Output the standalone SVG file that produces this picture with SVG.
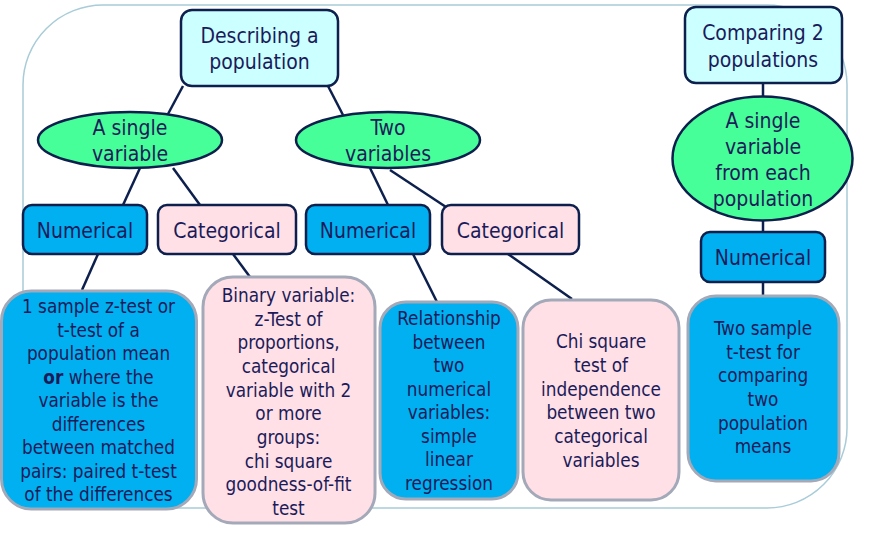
<svg xmlns="http://www.w3.org/2000/svg" width="876" height="539" viewBox="0 0 876 539">
<style>
text{font-family:"DejaVu Sans Condensed","DejaVu Sans",sans-serif;fill:#1b1b5a;text-anchor:middle}
.t20{font-size:21px}
.t17{font-size:18.8px}
.top{fill:#ccffff;stroke:#0d1f4d;stroke-width:2.5}
.ell{fill:#47ff98;stroke:#0d1f4d;stroke-width:2.5}
.num{fill:#00b0f0;stroke:#0d1f4d;stroke-width:2.5}
.cat{fill:#ffe0e6;stroke:#0d1f4d;stroke-width:2.5}
.bnum{fill:#00b0f0;stroke:#a3a9b8;stroke-width:3}
.bcat{fill:#ffe0e6;stroke:#a3a9b8;stroke-width:3}
.con line{stroke:#0d1f4d;stroke-width:2.5}
</style>
<rect x="23" y="5" width="824" height="503" rx="80" fill="none" stroke="#a8ccd8" stroke-width="1.5"/>
<g class="con">
<line x1="183" y1="86" x2="168" y2="114"/>
<line x1="328" y1="86" x2="343" y2="115"/>
<line x1="140" y1="168" x2="123" y2="205"/>
<line x1="173" y1="168" x2="200" y2="205"/>
<line x1="370" y1="168" x2="388" y2="205"/>
<line x1="390" y1="170" x2="446" y2="207"/>
<line x1="98" y1="254" x2="82" y2="290"/>
<line x1="233" y1="254" x2="250" y2="277"/>
<line x1="413" y1="254" x2="437" y2="302"/>
<line x1="508" y1="254" x2="572" y2="299"/>
<line x1="763" y1="83" x2="763" y2="96"/>
<line x1="763" y1="221" x2="763" y2="232"/>
<line x1="763" y1="282" x2="763" y2="295"/>
</g>
<g id="describing"><rect class="top" x="181" y="10" width="157" height="76" rx="11"/><text class="t20" x="259.5" y="43">Describing a</text><text class="t20" x="259.5" y="69">population</text></g>
<g id="single"><ellipse class="ell" cx="130" cy="140" rx="92" ry="28"/><text class="t20" x="130" y="135">A single</text><text class="t20" x="130" y="161">variable</text></g>
<g id="two"><ellipse class="ell" cx="388" cy="140" rx="92" ry="28"/><text class="t20" x="388" y="135">Two</text><text class="t20" x="388" y="161">variables</text></g>
<g id="num1"><rect class="num" x="23" y="205" width="124" height="49" rx="9"/><text class="t20" x="85" y="238">Numerical</text></g>
<g id="cat1"><rect class="cat" x="158" y="205" width="138" height="49" rx="9"/><text class="t20" x="227" y="238">Categorical</text></g>
<g id="num2"><rect class="num" x="306" y="205" width="124" height="49" rx="9"/><text class="t20" x="368" y="238">Numerical</text></g>
<g id="cat2"><rect class="cat" x="442" y="205" width="137" height="49" rx="9"/><text class="t20" x="510.5" y="238">Categorical</text></g>
<g id="comparing"><rect class="top" x="685" y="7" width="157" height="76" rx="11"/><text class="t20" x="763" y="40">Comparing 2</text><text class="t20" x="763" y="67">populations</text></g>
<g id="single2"><ellipse class="ell" cx="762.5" cy="158.5" rx="90" ry="62"/><text class="t20" x="763" y="128">A single</text><text class="t20" x="763" y="154">variable</text><text class="t20" x="763" y="180">from each</text><text class="t20" x="763" y="206">population</text></g>
<g id="num3"><rect class="num" x="701" y="232" width="124" height="50" rx="9"/><text class="t20" x="763" y="265">Numerical</text></g>
<g id="box1"><rect class="bnum" x="1.5" y="291" width="195" height="218" rx="30"/>
<text class="t17" x="98.5"><tspan x="98.5" y="313">1 sample z-test or</tspan><tspan x="98.5" y="337">t-test of a</tspan><tspan x="98.5" y="360">population mean</tspan><tspan x="98.5" y="384"><tspan font-weight="bold">or</tspan> where the</tspan><tspan x="98.5" y="407">variable is the</tspan><tspan x="98.5" y="431">differences</tspan><tspan x="98.5" y="454">between matched</tspan><tspan x="98.5" y="478">pairs: paired t-test</tspan><tspan x="98.5" y="501">of the differences</tspan></text></g>
<g id="box2"><rect class="bcat" x="203" y="277" width="172" height="246" rx="30"/>
<text class="t17"><tspan x="288.5" y="302">Binary variable:</tspan><tspan x="288.5" y="326">z-Test of</tspan><tspan x="288.5" y="349">proportions,</tspan><tspan x="288.5" y="373">categorical</tspan><tspan x="288.5" y="397">variable with 2</tspan><tspan x="288.5" y="420">or more</tspan><tspan x="288.5" y="444">groups:</tspan><tspan x="288.5" y="468">chi square</tspan><tspan x="288.5" y="491">goodness-of-fit</tspan><tspan x="288.5" y="515">test</tspan></text></g>
<g id="box3"><rect class="bnum" x="380" y="302" width="138" height="197" rx="26"/>
<text class="t17"><tspan x="449" y="325">Relationship</tspan><tspan x="449" y="349">between</tspan><tspan x="449" y="372">two</tspan><tspan x="449" y="396">numerical</tspan><tspan x="449" y="419">variables:</tspan><tspan x="449" y="443">simple</tspan><tspan x="449" y="466">linear</tspan><tspan x="449" y="490">regression</tspan></text></g>
<g id="box4"><rect class="bcat" x="523" y="300" width="156" height="200" rx="28"/>
<text class="t17"><tspan x="601" y="348">Chi square</tspan><tspan x="601" y="372">test of</tspan><tspan x="601" y="396">independence</tspan><tspan x="601" y="419">between two</tspan><tspan x="601" y="443">categorical</tspan><tspan x="601" y="467">variables</tspan></text></g>
<g id="box5"><rect class="bnum" x="688" y="296" width="151" height="185" rx="28"/>
<text class="t17"><tspan x="763" y="335">Two sample</tspan><tspan x="763" y="359">t-test for</tspan><tspan x="763" y="382">comparing</tspan><tspan x="763" y="406">two</tspan><tspan x="763" y="430">population</tspan><tspan x="763" y="453">means</tspan></text></g>
</svg>
